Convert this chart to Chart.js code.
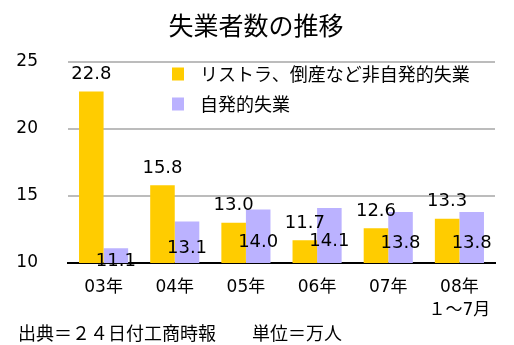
<!DOCTYPE html>
<html>
<head>
<meta charset="utf-8">
<script src="https://cdn.jsdelivr.net/npm/chart.js@4/dist/chart.umd.min.js"></script>
<style>
	html, body { margin: 0; padding: 0; background: #fff; }
	canvas { display: block; }
</style>
</head>
<body>
<canvas id="jobChart" width="514" height="345"></canvas>
<script>
const TITLE = "失業者数の推移";
const FOOTER = "出典＝２４日付工商時報　　単位＝万人";
const YEARS = ["03年", "04年", "05年", "06年", "07年", ["08年", "１～7月"]];
const SERIES_NAMES = ["リストラ、倒産など非自発的失業", "自発的失業"];
const INVOLUNTARY = [22.8, 15.8, 13.0, 11.7, 12.6, 13.3];
const VOLUNTARY = [11.1, 13.1, 14.0, 14.1, 13.8, 13.8];
const Y_TICKS = [10, 15, 20, 25];

const YELLOW = "#ffcc00";
const LAVENDER = "#bbb2ff";
const NUM_FONT = "'DejaVu Sans', 'Noto Sans CJK JP', sans-serif";
const JP_FONT = "'Noto Sans CJK JP', 'DejaVu Sans', sans-serif";

// title, legend box, value labels and footer are drawn by hand
const decorations = {
	id: "decorations",
	afterDatasetsDraw(chart) {
		const { ctx, chartArea } = chart;
		ctx.save();
		ctx.fillStyle = "#000";
		ctx.textAlign = "center";
		ctx.textBaseline = "middle";
		ctx.font = "18px " + NUM_FONT;
		chart.data.datasets.forEach((ds, di) => {
			const meta = chart.getDatasetMeta(di);
			meta.data.forEach((bar, i) => {
				const txt = ds.data[i].toFixed(1);
				// bars start below the axis (base is 0), so use the plot bottom
				if (di == 0) ctx.fillText(txt, bar.x, bar.y - 17);
				else ctx.fillText(txt, bar.x, (bar.y + chartArea.bottom) / 2 + 6);
			});
		});

		// legend inside the plot
		ctx.textAlign = "left";
		ctx.font = "18px " + JP_FONT;
		chart.data.datasets.forEach((ds, di) => {
			const cy = 74 + di * 30;
			ctx.fillStyle = ds.backgroundColor;
			ctx.fillRect(172, cy - 6.5, 12, 13);
			ctx.fillStyle = "#000";
			ctx.fillText(ds.label, 200, cy);
		});

		ctx.textAlign = "center";
		ctx.font = "25px " + JP_FONT;
		ctx.fillText(TITLE, 256, 25);

		ctx.textAlign = "left";
		ctx.font = "18px " + JP_FONT;
		ctx.fillText(FOOTER, 18, 333);
		ctx.restore();
	},
};

new Chart(document.getElementById("jobChart"), {
	type: "bar",
	data: {
		labels: YEARS,
		datasets: [
			{
				label: SERIES_NAMES[0],
				data: INVOLUNTARY,
				backgroundColor: YELLOW,
				categoryPercentage: 0.69,
				barPercentage: 1.0,
			},
			{
				label: SERIES_NAMES[1],
				data: VOLUNTARY,
				backgroundColor: LAVENDER,
				categoryPercentage: 0.69,
				barPercentage: 1.0,
			},
		],
	},
	plugins: [decorations],
	options: {
		responsive: false,
		animation: false,
		layout: {
			padding: { top: 62, right: 19, left: 0, bottom: 0 },
		},
		plugins: {
			legend: { display: false },
			tooltip: { enabled: false },
			title: { display: false },
		},
		scales: {
			x: {
				grid: { display: false, drawTicks: false },
				border: { display: true, color: "#000", width: 2 },
				ticks: {
					color: "#000",
					padding: 13,
					autoSkip: false,
					maxRotation: 0,
					minRotation: 0,
					font: { family: NUM_FONT, size: 17, lineHeight: 1.35 },
				},
				afterFit(scale) {
					scale.height = 82;
				},
			},
			y: {
				min: 10,
				max: 25,
				afterBuildTicks(scale) {
					scale.ticks = Y_TICKS.map((v) => ({ value: v }));
				},
				grid: {
					drawTicks: false,
					lineWidth: 2,
					color: (c) => (c.tick && c.tick.value == 10 ? "#0000" : "#bcbcbc"),
				},
				border: { display: false },
				ticks: {
					color: "#000",
					padding: 30,
					font: { family: NUM_FONT, size: 17 },
				},
				afterFit(scale) {
					scale.width = 68;
				},
			},
		},
	},
});
</script>
</body>
</html>
